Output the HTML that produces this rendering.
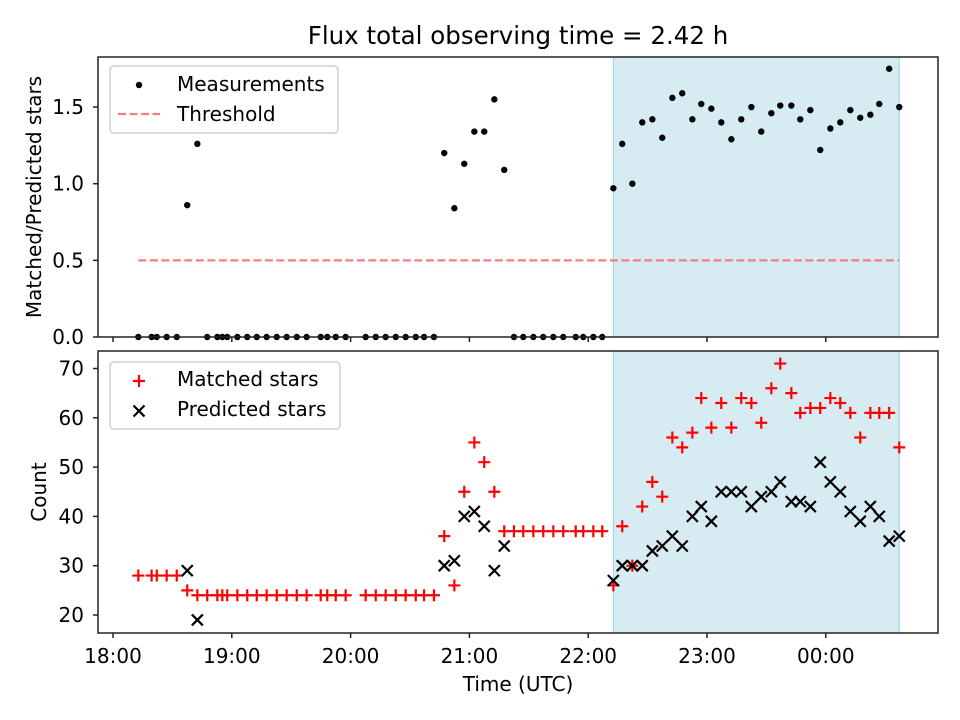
<!DOCTYPE html>
<html><head><meta charset="utf-8"><style>
body{margin:0;background:#fff}
svg{display:block;font-family:"DejaVu Sans","Liberation Sans",sans-serif}
</style></head><body>
<svg id="chart" width="960" height="720" xmlns="http://www.w3.org/2000/svg"></svg>
<script>
// time in minutes after 18:00 UTC
const times = [12.8,19.5,22.1,27.1,32.2,37.5,42.6,47.6,52.7,55.2,57.7,62.8,67.8,72.6,77.6,82.7,87.7,92.8,97.8,104.9,108.2,112.5,117.5,127.6,132.7,137.7,142.8,147.8,152.9,157.1,162.1,167.3,172.4,177.4,182.5,187.5,192.6,197.6,202.5,207.2,212.3,217.3,222.4,227.4,233.7,237.5,242.6,247.1,252.7,257.2,262.3,267.3,272.4,277.4,282.5,287.5,292.6,297.1,302.2,307.2,312.3,317.3,322.4,327.4,332.5,337.0,342.6,347.1,352.2,357.2,362.3,367.3,372.4,377.4,382.5,387.0,392.0,397.1];
const ratio = [0,0,0,0,0,0.86,1.26,0,0,0,0,0,0,0,0,0,0,0,0,0,0,0,0,0,0,0,0,0,0,0,0,1.2,0.84,1.13,1.34,1.34,1.55,1.09,0,0,0,0,0,0,0,0,0,0,0.97,1.26,1.0,1.40,1.42,1.30,1.56,1.59,1.42,1.52,1.49,1.40,1.29,1.42,1.50,1.34,1.46,1.51,1.51,1.42,1.48,1.22,1.36,1.40,1.48,1.43,1.45,1.52,1.75,1.50];
const matched = [28,28,28,28,28,25,24,24,24,24,24,24,24,24,24,24,24,24,24,24,24,24,24,24,24,24,24,24,24,24,24,36,26,45,55,51,45,37,37,37,37,37,37,37,37,37,37,37,26,38,30,42,47,44,56,54,57,64,58,63,58,64,63,59,66,71,65,61,62,62,64,63,61,56,61,61,61,54];
const predicted = [null,null,null,null,null,29,19,null,null,null,null,null,null,null,null,null,null,null,null,null,null,null,null,null,null,null,null,null,null,null,null,30,31,40,41,38,29,34,null,null,null,null,null,null,null,null,null,null,27,30,30,30,33,34,36,34,40,42,39,45,45,45,42,44,45,47,43,43,42,51,47,45,41,39,42,40,35,36];
const threshold = 0.5;
const spanStart = 252.7, spanEnd = 397.1;
const xTickLabels = ["18:00","19:00","20:00","21:00","22:00","23:00","00:00"];
const xTickVals = [0,60,120,180,240,300,360];
const topTicks = [0.0,0.5,1.0,1.5];
const botTicks = [20,30,40,50,60,70];

const NS="http://www.w3.org/2000/svg";
const svg=document.getElementById('chart');
function mk(tag,attrs,parent){const e=document.createElementNS(NS,tag);for(const k in attrs)e.setAttribute(k,attrs[k]);(parent||svg).appendChild(e);return e;}
const L=98,R=938;
const FS='20';
const X=m=>113+m*1.98;
const axTop={t:57,b:337}, axBot={t:351,b:633};
const Yt=v=>337-v*153.3;
const Yb=v=>615-(v-20)*4.93;

// title
let t=mk('text',{x:518,y:44,'font-size':'24.5','text-anchor':'middle',fill:'#000'});t.textContent='Flux total observing time = 2.42 h';



// spans
let s1=mk('rect',{x:X(spanStart),y:axTop.t,width:X(spanEnd)-X(spanStart),height:axTop.b-axTop.t,fill:'#add8e6','fill-opacity':0.5,stroke:'#9fcfe0'});


let s2=mk('rect',{x:X(spanStart),y:axBot.t,width:X(spanEnd)-X(spanStart),height:axBot.b-axBot.t,fill:'#add8e6','fill-opacity':0.5,stroke:'#9fcfe0'});



// threshold
let th=mk('line',{x1:X(times[0]),x2:X(times[times.length-1]),y1:Yt(threshold),y2:Yt(threshold),stroke:'#f08080','stroke-width':2.2,'stroke-dasharray':'8,3.5'});



// top points
const gTop=mk('g',{});


times.forEach((m,i)=>{const c=mk('circle',{cx:X(m),cy:Yt(ratio[i]),r:3.2,fill:'#000'},gTop);

});

// bottom points
const gM=mk('g',{stroke:'red','stroke-width':2.2});


const gP=mk('g',{stroke:'#000','stroke-width':2.2});


times.forEach((m,i)=>{
  const x=X(m),y=Yb(matched[i]);
  const p=mk('path',{d:`M${x-6},${y}H${x+6}M${x},${y-6}V${y+6}`},gM);
  
  
  if(predicted[i]!=null){const yp=Yb(predicted[i]);
    const q=mk('path',{d:`M${x-5.5},${yp-5.5}L${x+5.5},${yp+5.5}M${x-5.5},${yp+5.5}L${x+5.5},${yp-5.5}`},gP);
    
    }
});

// frames & ticks
[axTop,axBot].forEach((a,idx)=>{
  const f=mk('rect',{x:L,y:a.t,width:R-L,height:a.b-a.t,fill:'none',stroke:'#222','stroke-width':1.5});
  
  
  xTickVals.forEach((v,k)=>{mk('line',{x1:X(v),x2:X(v),y1:a.b,y2:a.b+5,stroke:'#222','stroke-width':1.5});
    if(idx){const tl=mk('text',{x:X(v),y:663,'font-size':FS,'text-anchor':'middle'});tl.textContent=xTickLabels[k];
      
      }});
});
topTicks.forEach(v=>{mk('line',{x1:L-5,x2:L,y1:Yt(v),y2:Yt(v),stroke:'#222','stroke-width':1.5});
  const tl=mk('text',{x:84,y:Yt(v)+7,'font-size':FS,'text-anchor':'end'});tl.textContent=v.toFixed(1);
  
  });
botTicks.forEach(v=>{mk('line',{x1:L-5,x2:L,y1:Yb(v),y2:Yb(v),stroke:'#222','stroke-width':1.5});
  const tl=mk('text',{x:84,y:Yb(v)+7,'font-size':FS,'text-anchor':'end'});tl.textContent=v;
  
  });

// axis titles
let yt=mk('text',{transform:'translate(41,197) rotate(-90)','font-size':FS,'text-anchor':'middle'});yt.textContent='Matched/Predicted stars';


let yb=mk('text',{transform:'translate(46,492) rotate(-90)','font-size':FS,'text-anchor':'middle'});yb.textContent='Count';


let xt=mk('text',{x:518,y:691,'font-size':FS,'text-anchor':'middle'});xt.textContent='Time (UTC)';



// legends
const lg1=mk('g',{});


mk('rect',{x:110,y:66,width:228,height:67,rx:4,fill:'#fff','fill-opacity':0.8,stroke:'#d0d0d0','stroke-width':1.5},lg1);
mk('circle',{cx:139,cy:85,r:3.2,fill:'#000'},lg1);
let a1=mk('text',{x:177,y:91,'font-size':FS},lg1);a1.textContent='Measurements';
mk('line',{x1:118,x2:160,y1:114,y2:114,stroke:'#f08080','stroke-width':2.2,'stroke-dasharray':'8,3.5'},lg1);
let a2=mk('text',{x:177,y:121,'font-size':FS},lg1);a2.textContent='Threshold';
const lg2=mk('g',{});


mk('rect',{x:110,y:362,width:230,height:67,rx:4,fill:'#fff','fill-opacity':0.8,stroke:'#d0d0d0','stroke-width':1.5},lg2);
mk('path',{d:'M133,381H145M139,375V387',stroke:'red','stroke-width':2.2},lg2);
let b1=mk('text',{x:177,y:386,'font-size':FS},lg2);b1.textContent='Matched stars';
mk('path',{d:'M133.5,405.5L144.5,416.5M133.5,416.5L144.5,405.5',stroke:'#000','stroke-width':2.2},lg2);
let b2=mk('text',{x:177,y:416,'font-size':FS},lg2);b2.textContent='Predicted stars';
</script>
</body></html>
